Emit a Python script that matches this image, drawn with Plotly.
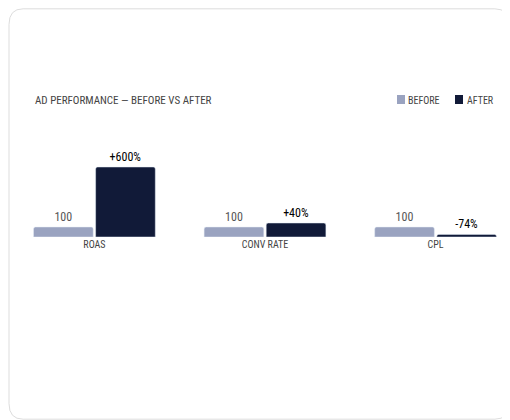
import plotly.graph_objects as go

# data
metrics = ['ROAS', 'CONV RATE', 'CPL']
before = [100, 100, 100]
after = [700, 140, 26]
before_labels = ['100', '100', '100']
after_labels = ['+600%', '+40%', '-74%']

FONT = 'Liberation Sans Narrow, Roboto Condensed, Roboto, sans-serif'
C_BEFORE = '#9aa3c0'
C_AFTER = '#111a38'
W, H = 502, 412
SH = 8  # page offset compensation


def px(x):
    return (x - SH) / W


def py(y):
    return (H - (y - SH)) / H


xs = list(range(len(metrics)))

fig = go.Figure()
fig.add_trace(go.Bar(
    x=xs, y=before, width=0.35, offset=-0.357, name='BEFORE',
    marker=dict(color=C_BEFORE, cornerradius=2),
    text=before_labels, textposition='outside', cliponaxis=False,
    textfont=dict(color='#555', size=12, family=FONT),
))
fig.add_trace(go.Bar(
    x=xs, y=after, width=0.35, offset=0.007, name='AFTER',
    marker=dict(color=C_AFTER, cornerradius=2),
    text=after_labels, textposition='outside', cliponaxis=False,
    textfont=dict(color='#000', size=12, family=FONT),
))

# card border
fig.add_shape(type='path', xref='paper', yref='paper', layer='below',
              path='M 0.03,0.002 L 0.97,0.002 Q 0.998,0.002 0.998,0.04 L 0.998,0.96 '
                   'Q 0.998,0.998 0.97,0.998 L 0.03,0.998 Q 0.002,0.998 0.002,0.96 '
                   'L 0.002,0.04 Q 0.002,0.002 0.03,0.002 Z',
              line=dict(color='#dddddd', width=1))

# title + manual legend
fig.update_layout(annotations=[
    dict(text='AD PERFORMANCE — BEFORE VS AFTER', xref='paper', yref='paper',
         x=px(33), y=py(100), xanchor='left', yanchor='middle',
         showarrow=False, font=dict(size=11, color='#444', family=FONT)),
    dict(text='BEFORE', xref='paper', yref='paper',
         x=px(406), y=py(100), xanchor='left', yanchor='middle',
         showarrow=False, font=dict(size=10, color='#444', family=FONT)),
    dict(text='AFTER', xref='paper', yref='paper',
         x=px(465), y=py(100), xanchor='left', yanchor='middle',
         showarrow=False, font=dict(size=10, color='#444', family=FONT)),
])
for x0, col in [(397, C_BEFORE), (455, C_AFTER)]:
    fig.add_shape(type='rect', xref='paper', yref='paper',
                  x0=px(x0), x1=px(x0 + 8), y0=py(104), y1=py(95),
                  fillcolor=col, line=dict(width=0))

fig.update_layout(
    width=W, height=H,
    margin=dict(l=0, r=0, t=0, b=0),
    paper_bgcolor='white', plot_bgcolor='white',
    barmode='overlay', showlegend=False,
    font=dict(family=FONT),
    xaxis=dict(domain=[px(33), px(497)], range=[-0.36, 2.36], tickvals=xs,
               ticktext=metrics, showgrid=False, zeroline=False,
               showline=False, ticks='', tickfont=dict(size=10, color='#444')),
    yaxis=dict(domain=[py(237), py(130)], range=[0, 1070], visible=False),
)

fig.write_html('out.html')
